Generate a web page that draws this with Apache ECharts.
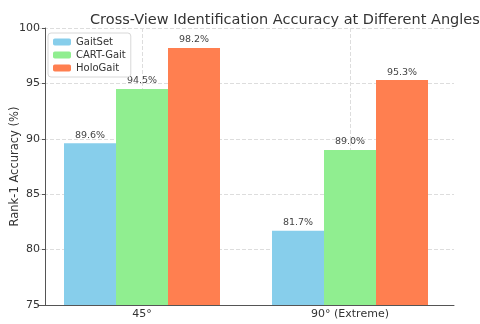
<!DOCTYPE html>
<html>
<head>
<meta charset="utf-8">
<script src="https://cdn.jsdelivr.net/npm/echarts@6/dist/echarts.min.js"></script>
<style>
    html, body { margin: 0; padding: 0; background: #fff; }
    #chart { width: 480px; height: 324px; }
</style>
</head>
<body>
<div id="chart"></div>
<script>
var categories = ["45°", "90° (Extreme)"];
var gaitSet = [89.6, 81.7];
var cartGait = [94.5, 89.0];
var holoGait = [98.2, 95.3];
var seriesNames = ["GaitSet", "CART-Gait", "HoloGait"];
var seriesColors = ["#87CEEB", "#90EE90", "#FF7F50"];

var font = "DejaVu Sans";

function makeBar(name, data, color) {
    return {
        name: name,
        type: "bar",
        data: data,
        barWidth: 52,
        barGap: "0%",
        itemStyle: { color: color },
        label: {
            show: true,
            position: "top",
            distance: 3,
            formatter: function (p) { return p.value.toFixed(1) + "%"; },
            fontFamily: font,
            fontSize: 9.5,
            color: "#444"
        }
    };
}

var option = {
    animation: false,
    backgroundColor: "#fff",
    title: {
        text: "Cross-View Identification Accuracy at Different Angles",
        left: 85,
        top: 8,
        textStyle: { fontFamily: font, fontSize: 14.5, fontWeight: "normal", color: "#333" }
    },
    legend: {
        orient: "vertical",
        left: 48,
        top: 33,
        itemWidth: 18,
        itemHeight: 7,
        itemGap: 3,
        padding: [4, 5, 4, 5],
        borderColor: "#d8d8d8",
        borderWidth: 1,
        borderRadius: 3,
        backgroundColor: "#fff",
        textStyle: { fontFamily: font, fontSize: 10, color: "#333" },
        data: seriesNames
    },
    grid: { left: 38, right: 26, top: 28, bottom: 19, outerBoundsMode: "none", containLabel: false },
    xAxis: {
        type: "category",
        data: categories,
        axisLine: { lineStyle: { color: "#555", width: 1 } },
        axisTick: { inside: true, alignWithLabel: true, length: 4, lineStyle: { color: "#555" } },
        axisLabel: { fontFamily: font, fontSize: 11, color: "#333", margin: 4 },
        splitLine: { show: true, alignWithLabel: true, lineStyle: { color: "#ddd", type: "dashed" } }
    },
    yAxis: {
        type: "value",
        min: 75,
        max: 100,
        interval: 5,
        offset: -7,
        name: "Rank-1 Accuracy (%)",
        nameLocation: "middle",
        nameRotate: 90,
        nameGap: 24,
        nameMoveOverlap: false,
        nameTextStyle: { fontFamily: font, fontSize: 11.5, color: "#333" },
        axisLine: { show: true, lineStyle: { color: "#555", width: 1 } },
        axisTick: { show: true, length: 3, lineStyle: { color: "#555" } },
        axisLabel: { fontFamily: font, fontSize: 11, color: "#333", margin: 5 },
        splitLine: { show: true, lineStyle: { color: "#ddd", type: "dashed" } }
    },
    series: [
        makeBar(seriesNames[0], gaitSet, seriesColors[0]),
        makeBar(seriesNames[1], cartGait, seriesColors[1]),
        makeBar(seriesNames[2], holoGait, seriesColors[2])
    ]
};

echarts.init(document.getElementById("chart")).setOption(option);
</script>
</body>
</html>
